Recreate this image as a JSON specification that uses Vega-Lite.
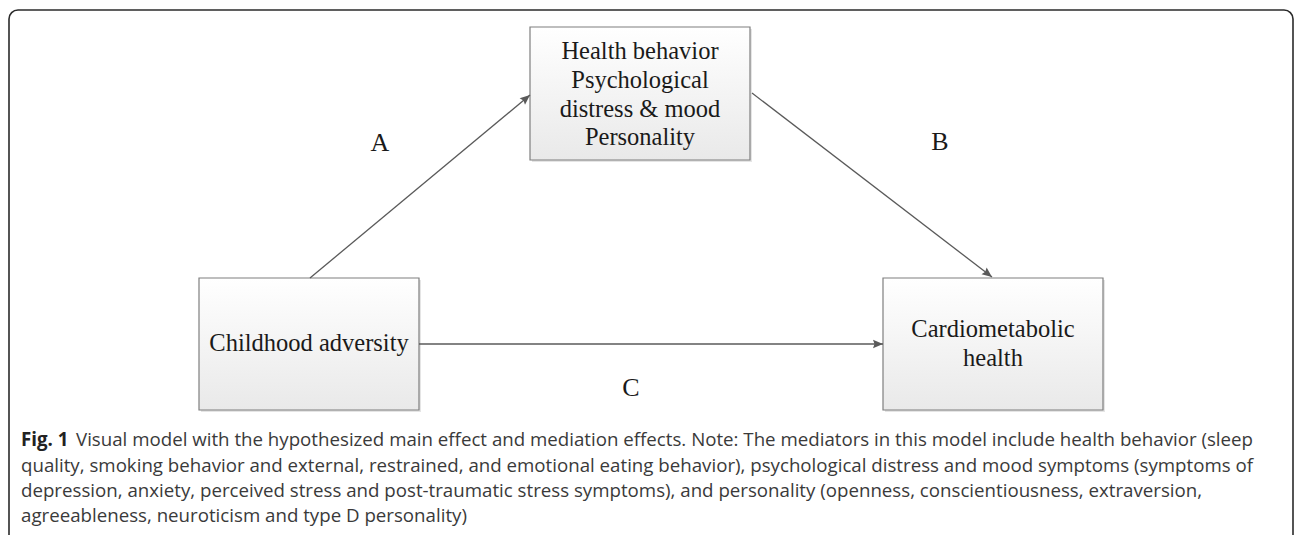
{
  "$schema": "https://vega.github.io/schema/vega-lite/v6.json",
  "width": 1295,
  "height": 535,
  "padding": 0,
  "autosize": {"type": "fit", "contains": "padding"},
  "background": "#ffffff",
  "config": {"view": {"stroke": null}},
  "datasets": {
    "frame": [{"x1": 9, "x2": 1293, "y1": 10, "y2": 560}],
    "boxes": [
      {"node": "Mediators", "x1": 530, "x2": 750, "y1": 27, "y2": 160},
      {"node": "Childhood adversity", "x1": 199, "x2": 419, "y1": 278, "y2": 410},
      {"node": "Cardiometabolic health", "x1": 883, "x2": 1103, "y1": 278, "y2": 410}
    ],
    "paths": [
      {"path": "A", "x": 310, "y": 278, "x2": 530, "y2": 95, "angle": 320.2},
      {"path": "B", "x": 752, "y": 93, "x2": 992, "y2": 277, "angle": 37.5},
      {"path": "C", "x": 419, "y": 344, "x2": 883, "y2": 344, "angle": 0}
    ],
    "boxText": [
      {"text": "Health behavior", "x": 640, "y": 52},
      {"text": "Psychological", "x": 640, "y": 81},
      {"text": "distress & mood", "x": 640, "y": 110},
      {"text": "Personality", "x": 640, "y": 138},
      {"text": "Childhood adversity", "x": 309, "y": 344},
      {"text": "Cardiometabolic", "x": 993, "y": 330},
      {"text": "health", "x": 993, "y": 359}
    ],
    "pathLabels": [
      {"text": "A", "x": 380, "y": 143},
      {"text": "B", "x": 940, "y": 142},
      {"text": "C", "x": 631, "y": 388}
    ],
    "captionBold": [{"text": "Fig. 1", "x": 21, "y": 440}],
    "caption": [
      {"text": "Visual model with the hypothesized main effect and mediation effects. Note: The mediators in this model include health behavior (sleep", "x": 76, "y": 440},
      {"text": "quality, smoking behavior and external, restrained, and emotional eating behavior), psychological distress and mood symptoms (symptoms of", "x": 21, "y": 466},
      {"text": "depression, anxiety, perceived stress and post-traumatic stress symptoms), and personality (openness, conscientiousness, extraversion,", "x": 21, "y": 491},
      {"text": "agreeableness, neuroticism and type D personality)", "x": 21, "y": 516}
    ]
  },
  "encoding": {
    "x": {"type": "quantitative", "scale": {"domain": [0, 1295], "nice": false, "zero": false}, "axis": null},
    "y": {"type": "quantitative", "scale": {"domain": [0, 535], "nice": false, "zero": false, "reverse": true}, "axis": null}
  },
  "layer": [
    {
      "data": {"name": "frame"},
      "mark": {"type": "rect", "fill": null, "stroke": "#2b2b2b", "strokeWidth": 1.6, "cornerRadius": 9, "clip": true},
      "encoding": {
        "x": {"field": "x1", "type": "quantitative"},
        "x2": {"field": "x2"},
        "y": {"field": "y1", "type": "quantitative"},
        "y2": {"field": "y2"}
      }
    },
    {
      "data": {"name": "boxes"},
      "mark": {"type": "rect", "fill": "#d4d4d4", "opacity": 0.6, "xOffset": 2, "x2Offset": 2, "yOffset": 2, "y2Offset": 2},
      "encoding": {
        "x": {"field": "x1", "type": "quantitative"},
        "x2": {"field": "x2"},
        "y": {"field": "y1", "type": "quantitative"},
        "y2": {"field": "y2"}
      }
    },
    {
      "data": {"name": "boxes"},
      "mark": {
        "type": "rect",
        "stroke": "#7f7f7f",
        "strokeWidth": 1.2,
        "fill": {"gradient": "linear", "x1": 0, "y1": 0, "x2": 0, "y2": 1, "stops": [{"offset": 0, "color": "#ffffff"}, {"offset": 1, "color": "#e9e9e9"}]}
      },
      "encoding": {
        "x": {"field": "x1", "type": "quantitative"},
        "x2": {"field": "x2"},
        "y": {"field": "y1", "type": "quantitative"},
        "y2": {"field": "y2"}
      }
    },
    {
      "data": {"name": "paths"},
      "mark": {"type": "rule", "color": "#5a5a5a", "strokeWidth": 1.3},
      "encoding": {
        "x": {"field": "x", "type": "quantitative"},
        "y": {"field": "y", "type": "quantitative"},
        "x2": {"field": "x2"},
        "y2": {"field": "y2"}
      }
    },
    {
      "data": {"name": "paths"},
      "mark": {"type": "point", "shape": "M0,0L-1,-0.42L-0.85,0L-1,0.42Z", "filled": true, "color": "#5a5a5a", "size": 400, "opacity": 1},
      "encoding": {
        "x": {"field": "x2", "type": "quantitative"},
        "y": {"field": "y2", "type": "quantitative"},
        "angle": {"field": "angle", "type": "quantitative", "scale": {"domain": [0, 360], "range": [0, 360]}}
      }
    },
    {
      "data": {"name": "boxText"},
      "mark": {"type": "text", "font": "Liberation Serif", "fontSize": 24.5, "color": "#1a1a1a", "align": "center", "baseline": "middle"},
      "encoding": {
        "x": {"field": "x", "type": "quantitative"},
        "y": {"field": "y", "type": "quantitative"},
        "text": {"field": "text"}
      }
    },
    {
      "data": {"name": "pathLabels"},
      "mark": {"type": "text", "font": "Liberation Serif", "fontSize": 26, "color": "#1a1a1a", "align": "center", "baseline": "middle"},
      "encoding": {
        "x": {"field": "x", "type": "quantitative"},
        "y": {"field": "y", "type": "quantitative"},
        "text": {"field": "text"}
      }
    },
    {
      "data": {"name": "captionBold"},
      "mark": {"type": "text", "font": "Open Sans", "fontSize": 18.7, "fontWeight": "bold", "color": "#222222", "align": "left", "baseline": "middle"},
      "encoding": {
        "x": {"field": "x", "type": "quantitative"},
        "y": {"field": "y", "type": "quantitative"},
        "text": {"field": "text"}
      }
    },
    {
      "data": {"name": "caption"},
      "mark": {"type": "text", "font": "Open Sans", "fontSize": 18.7, "color": "#3a3a3a", "align": "left", "baseline": "middle"},
      "encoding": {
        "x": {"field": "x", "type": "quantitative"},
        "y": {"field": "y", "type": "quantitative"},
        "text": {"field": "text"}
      }
    }
  ]
}
